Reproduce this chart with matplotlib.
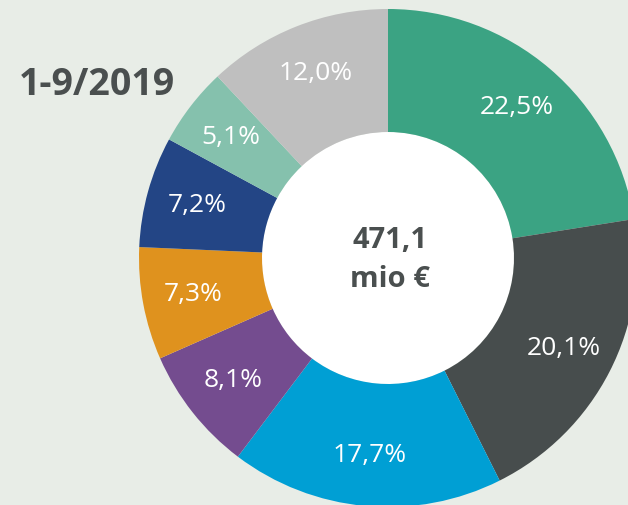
import matplotlib
matplotlib.use("Agg")
import matplotlib.pyplot as plt
from matplotlib.patches import Circle

shares = [22.5, 20.1, 17.7, 8.1, 7.3, 7.2, 5.1, 12.0]
colors = ["#3ba383", "#474d4d", "#009fd4", "#744c8f", "#df921e", "#234585", "#85c1ad", "#bfbfbf"]
title_text = "1-9/2019"
center_text = "471,1\nmio €"

bg = "#e8ede7"
fig = plt.figure(figsize=(6.28, 5.05), dpi=100, facecolor=bg)
ax = fig.add_axes([0, 0, 1, 1])
ax.set_facecolor(bg)

R = 249
W = 123
cx, cy = 388, 505 - 258

wedges, texts, autotexts = ax.pie(
    shares, colors=colors, startangle=90, counterclock=False,
    center=(cx, cy), radius=R,
    wedgeprops=dict(width=W, linewidth=0),
    autopct=lambda p: f"{p:.1f}".replace(".", ",") + "%",
    pctdistance=0.795,
    textprops=dict(color="white", fontsize=19, family="Open Sans"),
)
ax.add_patch(Circle((cx, cy), R - W, facecolor="white", edgecolor="none", zorder=0.5))
ax.set_xlim(0, 628)
ax.set_ylim(0, 505)
ax.set_aspect("equal")
ax.axis("off")

ax.text(cx + 2, cy - 2, center_text, ha="center", va="center", fontsize=21,
        fontweight="bold", color="#4a4f4f", family="Open Sans", linespacing=1.45)
ax.text(97, 505 - 85, title_text, ha="center", va="center", fontsize=27,
        fontweight="bold", color="#4a4f4f", family="Open Sans")

fig.savefig("out.png", dpi=100, facecolor=bg)
